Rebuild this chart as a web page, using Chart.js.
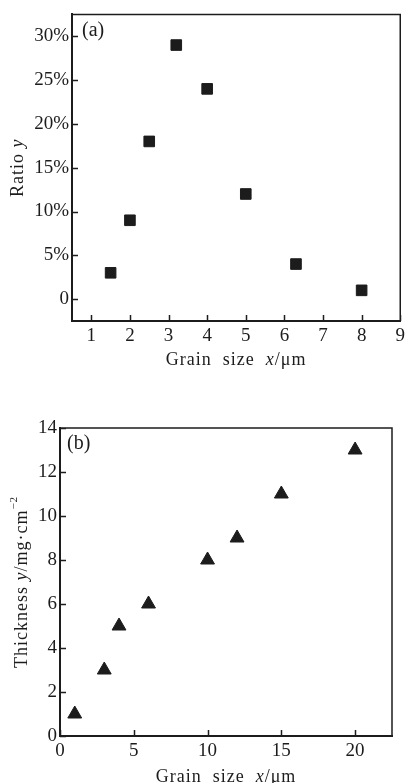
<!DOCTYPE html>
<html>
<head>
<meta charset="utf-8">
<script src="https://cdn.jsdelivr.net/npm/chart.js@4"></script>
<style>
html, body { margin: 0; padding: 0; background: #fff; }
#boxA { position: absolute; left: 0; top: 0; width: 409px; height: 392px; }
#boxB { position: absolute; left: 0; top: 392px; width: 409px; height: 391px; }
</style>
</head>
<body>
<div id="boxA"><canvas id="chartA"></canvas></div>
<div id="boxB"><canvas id="chartB"></canvas></div>
<script>
// Dados do gráfico (a)
var tamanhoA = [1.5, 2, 2.5, 3.2, 4, 5, 6.3, 8];
var razaoA = [3, 9, 18, 29, 24, 12, 4, 1];
var ticksXA = [1, 2, 3, 4, 5, 6, 7, 8, 9];
var ticksYA = [0, 5, 10, 15, 20, 25, 30];

// Dados do gráfico (b)
var tamanhoB = [1, 3, 4, 6, 10, 12, 15, 20];
var espessuraB = [1, 3, 5, 6, 8, 9, 11, 13];
var ticksXB = [0, 5, 10, 15, 20];
var ticksYB = [0, 2, 4, 6, 8, 10, 12, 14];

var FONTE = '"Liberation Serif", "Times New Roman", serif';
var COR = '#1c1c1c';

Chart.defaults.font.family = FONTE;
Chart.defaults.color = COR;

// Monta pares x/y p/ o scatter
function pares(xs, ys) {
    return xs.map(function (x, i) { return { x: x, y: ys[i] }; });
}

// Texto com partes em itálico / sobrescrito
function textoMisto(ctx, partes, x, y, girar) {
    ctx.save();
    ctx.translate(x, y);
    if (girar) ctx.rotate(-Math.PI / 2);
    ctx.textBaseline = 'middle';
    ctx.textAlign = 'left';
    ctx.fillStyle = COR;
    ctx.letterSpacing = '1px';
    var total = 0;
    partes.forEach(function (p) {
        ctx.font = (p.it ? 'italic ' : '') + (p.sup ? 11 : 18) + 'px ' + FONTE;
        p.w = ctx.measureText(p.t).width;
        total += p.w;
    });
    var cx = -total / 2;
    partes.forEach(function (p) {
        ctx.font = (p.it ? 'italic ' : '') + (p.sup ? 11 : 18) + 'px ' + FONTE;
        ctx.fillText(p.t, cx, p.sup ? -8 : 0);
        cx += p.w;
    });
    ctx.restore();
}

// Plugin: moldura, marcas p/ dentro, letra do painel e títulos dos eixos
function pluginMoldura(cfg) {
    return {
        id: 'moldura',
        afterDraw: function (chart) {
            var ctx = chart.ctx;
            var a = chart.chartArea;
            var sx = chart.scales.x, sy = chart.scales.y;
            ctx.save();
            ctx.strokeStyle = COR;
            ctx.lineWidth = 1.5;
            ctx.beginPath();
            ctx.moveTo(a.left, a.top);
            ctx.lineTo(a.right, a.top);
            ctx.lineTo(a.right, a.bottom);
            sx.ticks.forEach(function (t) {
                var px = Math.round(sx.getPixelForValue(t.value)) + 0.5;
                ctx.moveTo(px, a.bottom);
                ctx.lineTo(px, a.bottom - 6);
            });
            sy.ticks.forEach(function (t) {
                var py = Math.round(sy.getPixelForValue(t.value)) + 0.5;
                ctx.moveTo(a.left, py);
                ctx.lineTo(a.left + 6, py);
            });
            ctx.stroke();
            ctx.fillStyle = COR;
            ctx.font = '20px ' + FONTE;
            ctx.textBaseline = 'middle';
            ctx.fillText(cfg.letra, a.left + cfg.letraDx, a.top + 16);
            ctx.restore();
            textoMisto(ctx, cfg.tituloX, (a.left + a.right) / 2, cfg.tituloXy, false);
            textoMisto(ctx, cfg.tituloY, cfg.tituloYx, (a.top + a.bottom) / 2, true);
        }
    };
}

function eixo(pos, min, max, valores, padding, rotulo, ajuste) {
    return {
        type: 'linear',
        position: pos,
        min: min,
        max: max,
        grid: { drawOnChartArea: false, drawTicks: false },
        border: { display: true, color: COR, width: 2 },
        ticks: {
            color: COR, font: { size: 19 }, maxRotation: 0, padding: padding,
            autoSkip: false,
            callback: rotulo || function (v) { return v; }
        },
        afterBuildTicks: function (s) {
            s.ticks = valores.map(function (v) { return { value: v }; });
        },
        afterFit: ajuste
    };
}

function plotarGrafico(id, dados, estilo, raio, x, y, padding, cfg) {
    var ctx = document.getElementById(id).getContext('2d');
    return new Chart(ctx, {
        type: 'scatter',
        data: {
            datasets: [{
                data: dados,
                pointStyle: estilo,
                pointRadius: raio,
                pointHoverRadius: raio,
                backgroundColor: COR,
                borderColor: COR,
                borderWidth: 1
            }]
        },
        options: {
            responsive: true,
            maintainAspectRatio: false,
            animation: false,
            layout: { padding: padding, autoPadding: false },
            plugins: { legend: { display: false }, tooltip: { enabled: false } },
            scales: { x: x, y: y }
        },
        plugins: [pluginMoldura(cfg)]
    });
}

plotarGrafico('chartA', pares(tamanhoA, razaoA), 'rect', 7.5,
    eixo('bottom', 0.5, 9, ticksXA, 4, null, function (s) { s.height = 71; }),
    eixo('left', -2.5, 32.5, ticksYA, 3, function (v) { return v === 0 ? '0' : v + '%'; },
        function (s) { s.width = 72; }),
    { top: 14, right: 6, left: 0, bottom: 0 },
    {
        letra: '(a)', letraDx: 10,
        tituloX: [{ t: 'Grain  size  ' }, { t: 'x', it: true }, { t: '/μm' }], tituloXy: 360,
        tituloY: [{ t: 'Ratio ' }, { t: 'y', it: true }], tituloYx: 18
    });

plotarGrafico('chartB', pares(tamanhoB, espessuraB), 'triangle', 8,
    eixo('bottom', 0, 22.5, ticksXB, 4, null, function (s) { s.height = 47; }),
    eixo('left', 0, 14, ticksYB, 3, null, function (s) { s.width = 60; }),
    { top: 36, right: 17, left: 0, bottom: 0 },
    {
        letra: '(b)', letraDx: 7,
        tituloX: [{ t: 'Grain  size  ' }, { t: 'x', it: true }, { t: '/μm' }], tituloXy: 385,
        tituloY: [{ t: 'Thickness ' }, { t: 'y', it: true }, { t: '/mg·cm' }, { t: '−2', sup: true }], tituloYx: 22
    });
</script>
</body>
</html>
